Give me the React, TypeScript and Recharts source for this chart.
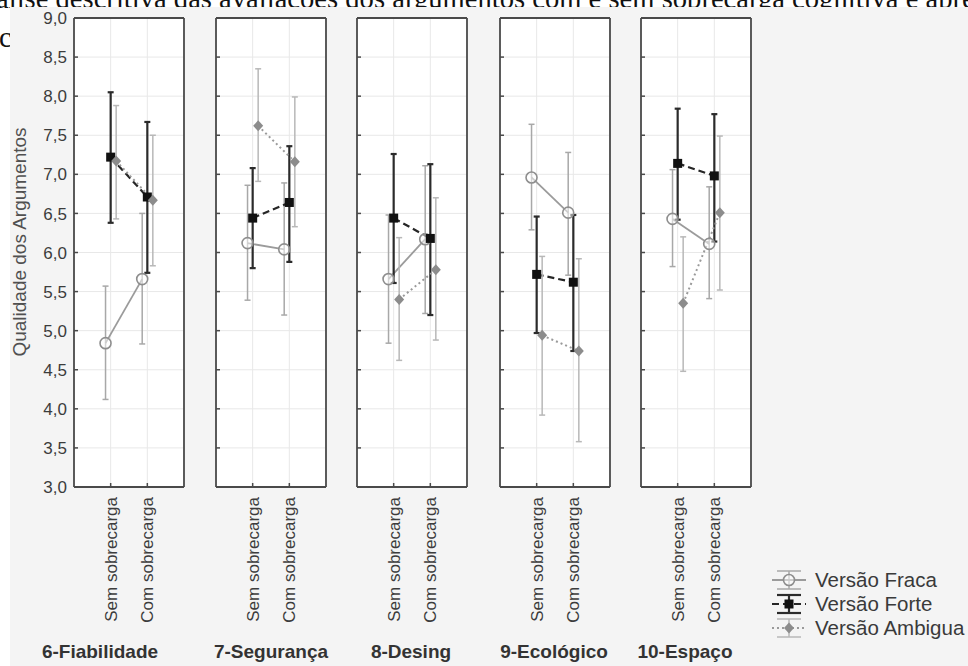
import React from 'react'
import { LineChart, Line, XAxis, YAxis, CartesianGrid, ErrorBar } from 'recharts'

const categories = ['Sem sobrecarga', 'Com sobrecarga']
const panelTitles = ['6-Fiabilidade', '7-Segurança', '8-Desing', '9-Ecológico', '10-Espaço']
const seriesNames = ['Versão Fraca', 'Versão Forte', 'Versão Ambigua']
const yTicks = [3, 3.5, 4, 4.5, 5, 5.5, 6, 6.5, 7, 7.5, 8, 8.5, 9]
const rightTicks = [1, 2, 3, 4, 5, 6, 7, 8, 9, 10]

// one row per panel: [Sem sobrecarga, Com sobrecarga]
const fracaMean = [[4.84, 5.66], [6.12, 6.04], [5.66, 6.17], [6.96, 6.51], [6.43, 6.11]]
const fracaLow = [[4.12, 4.83], [5.39, 5.2], [4.84, 5.22], [6.29, 5.71], [5.82, 5.41]]
const fracaHigh = [[5.57, 6.5], [6.86, 6.89], [6.48, 7.11], [7.64, 7.28], [7.06, 6.84]]

const forteMean = [[7.22, 6.71], [6.44, 6.64], [6.44, 6.18], [5.72, 5.62], [7.14, 6.98]]
const forteLow = [[6.38, 5.74], [5.8, 5.88], [5.61, 5.2], [4.97, 4.74], [6.42, 6.14]]
const forteHigh = [[8.05, 7.67], [7.08, 7.36], [7.26, 7.13], [6.46, 6.48], [7.84, 7.77]]

const ambMean = [[7.17, 6.67], [7.62, 7.16], [5.4, 5.78], [4.94, 4.74], [5.35, 6.51]]
const ambLow = [[6.43, 5.83], [6.91, 6.33], [4.62, 4.88], [3.92, 3.58], [4.48, 5.52]]
const ambHigh = [[7.88, 7.5], [8.35, 7.99], [6.19, 6.7], [5.95, 5.92], [6.2, 7.49]]

const SANS = '"Liberation Sans", Arial, sans-serif'
const SERIF = '"Liberation Serif", "Times New Roman", serif'
const FRAME = '#4a4a4a'
const TEXT = '#3c3c3c'

const PLOT_TOP = 18
const PLOT_BOTTOM = 487
const PLOT_W = 110
const CHART_H = 666
const XAXIS_H = 140
const panelLeft = [74, 216, 357, 500, 641]
const titleCenter = [100, 271, 411, 554, 685]

const SERIES = [
  {
    name: seriesNames[0], mean: fracaMean, low: fracaLow, high: fracaHigh, shift: -0.14, marker: 'circle',
    line: { stroke: '#9b9b9b', strokeWidth: 1.8 },
    err: { stroke: '#a8a8a8', strokeWidth: 1.5 },
  },
  {
    name: seriesNames[1], mean: forteMean, low: forteLow, high: forteHigh, shift: 0, marker: 'square',
    line: { stroke: '#262626', strokeWidth: 2.2, strokeDasharray: '7 4' },
    err: { stroke: '#2b2b2b', strokeWidth: 2.2 },
  },
  {
    name: seriesNames[2], mean: ambMean, low: ambLow, high: ambHigh, shift: 0.15, marker: 'diamond',
    line: { stroke: '#9a9a9a', strokeWidth: 2, strokeDasharray: '2 3' },
    err: { stroke: '#b8b8b8', strokeWidth: 1.5 },
  },
]

const seriesData = (s: any, p: number) =>
  categories.map((_, j) => ({
    x: j + 1 + s.shift,
    y: s.mean[p][j],
    err: [s.mean[p][j] - s.low[p][j], s.high[p][j] - s.mean[p][j]],
  }))

const drawMarker = (kind: string, cx: number, cy: number, key?: any) => {
  if (kind === 'circle')
    return <circle key={key} cx={cx} cy={cy} r={5.5} fill="#fff" fillOpacity={0.5} stroke="#8e8e8e" strokeWidth={1.6} />
  if (kind === 'square')
    return <rect key={key} x={cx - 4.5} y={cy - 4.5} width={9} height={9} fill="#111" />
  return <path key={key} d={`M${cx},${cy - 5.5}L${cx + 5},${cy}L${cx},${cy + 5.5}L${cx - 5},${cy}Z`} fill="#8c8c8c" />
}

const fmt = (v: number) => v.toFixed(1).replace('.', ',')

const LeftTick = ({ x, y, payload, showLabel }: any) => {
  const edge = x + 7
  return (
    <g>
      <line x1={edge} x2={edge + 4} y1={y} y2={y} stroke={FRAME} strokeWidth={1.5} />
      {showLabel && (
        <text x={x} y={y} dy="0.36em" textAnchor="end" fontSize={17} fontFamily={SANS} fill={TEXT}>
          {fmt(payload.value)}
        </text>
      )}
    </g>
  )
}

const CategoryTick = ({ x, y, payload }: any) => (
  <g>
    <line x1={x} x2={x} y1={y - 10} y2={y - 14} stroke={FRAME} strokeWidth={1.5} />
    <text
      x={x} y={y} dy="0.36em" textAnchor="end" transform={`rotate(-90 ${x} ${y})`}
      fontSize={17} fontFamily={SANS} fill={TEXT}
    >
      {categories[Math.round(payload.value) - 1]}
    </text>
  </g>
)

function Panel({ index }: { index: number }) {
  const first = index === 0
  const yAxisW = first ? 66 : 1
  const left = panelLeft[index] - 8 - yAxisW
  const width = 8 + yAxisW + PLOT_W + 8
  const frameLine = { stroke: FRAME, strokeWidth: 1.8 }
  const tickLine = { stroke: FRAME, strokeWidth: 1.5 }
  return (
    <div style={{ position: 'absolute', left, top: 0 }}>
      <LineChart
        width={width}
        height={CHART_H}
        margin={{ top: PLOT_TOP, left: 8, right: 8, bottom: CHART_H - PLOT_BOTTOM - XAXIS_H }}
      >
        <CartesianGrid fill="#fff" fillOpacity={1} stroke="#e8e8e8" strokeWidth={1} />
        <XAxis
          xAxisId={0} type="number" dataKey="x" domain={[0, 3]} ticks={[1, 2]} interval={0}
          height={XAXIS_H} tickSize={0} tickMargin={10} tickLine={false} axisLine={frameLine}
          tick={<CategoryTick />} allowDataOverflow
        />
        <XAxis
          xAxisId="top" orientation="top" type="number" domain={[0, 3]} ticks={[1, 2]} interval={0}
          mirror height={1} tickSize={4} tick={false} axisLine={frameLine} tickLine={tickLine}
        />
        <YAxis
          yAxisId={0} type="number" domain={[3, 9]} ticks={yTicks} interval={0} width={yAxisW}
          tickSize={0} tickMargin={7} tickLine={false} axisLine={frameLine}
          tick={(p: any) => <LeftTick {...p} showLabel={first} />} allowDataOverflow
        />
        <YAxis
          yAxisId="right" orientation="right" type="number" domain={[0, 11]} ticks={rightTicks} interval={0}
          mirror width={1} tickSize={4} tick={false} axisLine={frameLine} tickLine={tickLine}
        />
        {SERIES.map(s => (
          <Line
            key={s.name}
            data={seriesData(s, index)}
            dataKey="y"
            name={s.name}
            type="linear"
            {...s.line}
            dot={(p: any) => drawMarker(s.marker, p.cx, p.cy, p.index)}
            activeDot={false}
            isAnimationActive={false}
          >
            <ErrorBar dataKey="err" direction="y" width={3} {...s.err} isAnimationActive={false} />
          </Line>
        ))}
      </LineChart>
    </div>
  )
}

function LegendIcon({ s }: any) {
  return (
    <svg width={34} height={24} style={{ display: 'block' }}>
      <line x1={5} x2={29} y1={3} y2={3} {...s.err} />
      <line x1={17} x2={17} y1={3} y2={21} {...s.err} />
      <line x1={5} x2={29} y1={21} y2={21} {...s.err} />
      <line x1={0} x2={34} y1={12} y2={12} {...s.line} />
      {drawMarker(s.marker, 17, 12)}
    </svg>
  )
}

export default function App() {
  return (
    <div style={{ position: 'absolute', left: 0, top: 0, width: 968, height: 666, overflow: 'hidden', background: '#fff' }}>
      <svg width={968} height={60} style={{ position: 'absolute', left: 0, top: 0 }}>
        <text x={-4} y={8} fontSize={28.6} fontFamily={SERIF} fill="#111">
          álise descritiva das avaliações dos argumentos com e sem sobrecarga cognitiva é apresentada
        </text>
        <text x={-1} y={47} fontSize={28.6} fontFamily={SERIF} fill="#111">
          c
        </text>
      </svg>
      <div style={{ position: 'absolute', left: 10, top: 7, width: 958, height: 659, background: '#f4f4f4' }} />
      <svg width={60} height={500} style={{ position: 'absolute', left: 0, top: 0 }}>
        <text
          x={19} y={242} dy="0.36em" textAnchor="middle" transform="rotate(-90 19 242)"
          fontSize={19} fontFamily={SANS} fill="#505050"
        >
          Qualidade dos Argumentos
        </text>
      </svg>
      {panelTitles.map((_, i) => (
        <Panel key={i} index={i} />
      ))}
      {panelTitles.map((t, i) => (
        <div
          key={t}
          style={{
            position: 'absolute', left: titleCenter[i] - 80, width: 160, top: 641, textAlign: 'center',
            fontFamily: SANS, fontWeight: 700, fontSize: 19, color: '#333', lineHeight: '22px',
          }}
        >
          {t}
        </div>
      ))}
      <div style={{ position: 'absolute', left: 772, top: 568 }}>
        {SERIES.map(s => (
          <div key={s.name} style={{ display: 'flex', alignItems: 'center', height: 24 }}>
            <LegendIcon s={s} />
            <span style={{ marginLeft: 9, fontFamily: SANS, fontSize: 20.5, color: '#3a3a3a', lineHeight: '24px' }}>
              {s.name}
            </span>
          </div>
        ))}
      </div>
    </div>
  )
}
